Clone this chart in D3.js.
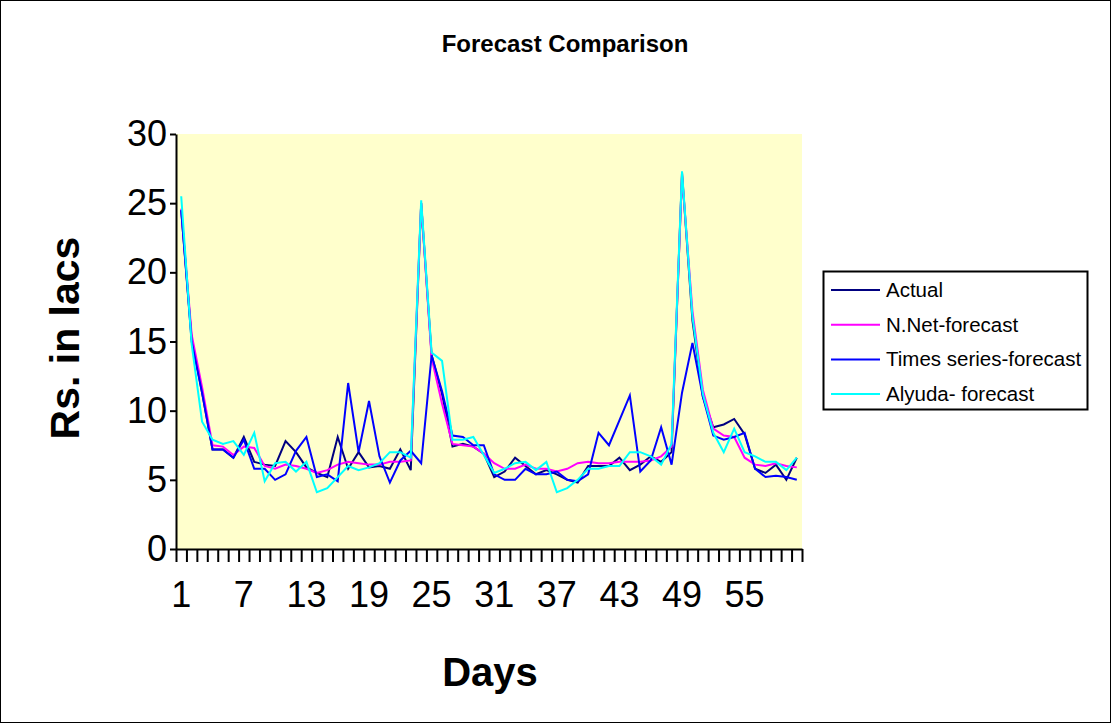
<html>
  <head>
    <script src="https://d3js.org/d3.v7.min.js"></script>
    <style>
      body { margin: 0; background: white; }
      text { font-family: "Liberation Sans", Arial, sans-serif; }
    </style>
  </head>
  <body>
    <svg id="chart" width="1112" height="724"></svg>
    <script>
      // days 1..60
      const days = d3.range(1, 61);
      const tickDays = [1, 7, 13, 19, 25, 31, 37, 43, 49, 55];
      const yTicks = [0, 5, 10, 15, 20, 25, 30];

      const actual = [24.5, 15.2, 11.3, 7.2, 7.2, 6.6, 8.1, 6.3, 6.1, 6.0,
        7.8, 7.0, 5.9, 5.5, 5.2, 8.1, 5.8, 7.0, 5.9, 6.0,
        5.8, 7.2, 5.7, 25.0, 14.0, 11.2, 7.4, 7.6, 7.4, 6.9,
        5.2, 5.6, 6.6, 6.0, 5.4, 5.7, 5.4, 5.0, 4.8, 6.0,
        6.0, 6.0, 6.6, 5.7, 6.1, 6.7, 6.3, 7.0, 27.2, 16.5,
        11.0, 8.8, 9.0, 9.4, 8.3, 5.8, 5.5, 6.1, 5.0, 6.6];
      const nnet = [24.6, 15.5, 11.7, 7.5, 7.4, 6.8, 7.4, 7.3, 6.0, 5.8,
        6.1, 6.0, 5.8, 5.5, 5.7, 6.1, 6.3, 6.2, 6.1, 6.1,
        6.3, 6.3, 6.4, 25.0, 13.8, 10.5, 7.6, 7.5, 7.4, 6.9,
        6.2, 5.8, 5.8, 6.1, 5.8, 5.8, 5.6, 5.8, 6.2, 6.3,
        6.2, 6.2, 6.3, 6.3, 6.3, 6.4, 6.7, 7.4, 27.0, 17.2,
        11.5, 8.7, 8.2, 8.1, 6.6, 6.1, 6.0, 6.2, 6.0, 5.9];
      const timeSeries = [24.5, 15.0, 11.3, 7.2, 7.2, 6.6, 7.9, 5.8, 5.8, 5.0,
        5.4, 7.1, 8.1, 5.2, 5.4, 4.9, 12.0, 7.0, 10.7, 6.7,
        4.8, 6.4, 7.1, 6.2, 14.0, 11.4, 8.2, 8.1, 7.5, 7.5,
        5.4, 5.0, 5.0, 5.8, 5.4, 5.4, 5.6, 5.0, 4.9, 5.4,
        8.4, 7.5, 9.3, 11.1, 5.6, 6.4, 8.8, 6.1, 11.3, 14.9,
        11.0, 8.2, 7.9, 8.1, 8.4, 5.8, 5.2, 5.3, 5.2, 5.0];
      const alyuda = [25.5, 14.8, 9.2, 7.9, 7.6, 7.8, 6.8, 8.4, 4.9, 6.2,
        6.3, 5.6, 6.3, 4.1, 4.4, 5.2, 6.0, 5.7, 5.9, 6.2,
        7.0, 7.0, 6.6, 25.2, 14.2, 13.6, 7.9, 7.9, 8.1, 6.8,
        5.5, 5.8, 6.2, 6.3, 5.7, 6.3, 4.1, 4.4, 5.0, 5.8,
        5.8, 6.0, 6.0, 7.0, 7.0, 6.7, 6.1, 7.6, 27.3, 16.8,
        11.2, 8.4, 7.0, 8.7, 7.0, 6.7, 6.3, 6.3, 5.7, 6.6];

      const seriesNames = ["Actual", "N.Net-forecast", "Times series-forecast", "Alyuda- forecast"];
      const seriesColors = ["#000080", "#ff00ff", "#0000ff", "#00ffff"];
      const seriesData = [actual, nnet, timeSeries, alyuda];

      const svg = d3.select("#chart");
      const margin = { top: 134, right: 310, bottom: 175, left: 176 };
      const plotW = 1112 - margin.left - margin.right;
      const plotH = 724 - margin.top - margin.bottom;

      // outer frame
      svg.append("rect")
        .attr("x", 0.5).attr("y", 0.5)
        .attr("width", 1110).attr("height", 722)
        .attr("fill", "white").attr("stroke", "black");

      const g = svg.append("g")
        .attr("transform", "translate(" + margin.left + "," + margin.top + ")");

      g.append("rect")
        .attr("width", plotW).attr("height", plotH)
        .attr("fill", "#ffffcc");

      const x = d3.scaleBand().domain(days).range([0, plotW]);
      const xEdge = d3.scaleLinear().domain([0, days.length]).range([0, plotW]);
      const y = d3.scaleLinear().domain([0, 30]).range([plotH, 0]);

      // lines
      const line = d3.line()
        .x((d, i) => x(days[i]) + x.bandwidth() / 2)
        .y((d) => y(d));

      seriesData.forEach((s, k) => {
        g.append("path")
          .datum(s)
          .attr("fill", "none")
          .attr("stroke", seriesColors[k])
          .attr("stroke-width", 2)
          .attr("stroke-linejoin", "miter")
          .attr("d", line);
      });

      // x axis: tick marks between categories
      g.append("g")
        .attr("transform", "translate(0," + plotH + ")")
        .call(d3.axisBottom(xEdge).tickValues(d3.range(0, days.length + 1))
          .tickSize(13).tickSizeOuter(0).tickFormat(""))
        .call((a) => a.selectAll("line").attr("stroke-width", 2))
        .call((a) => a.select(".domain").attr("stroke-width", 2));

      // x labels at category centres
      g.append("g")
        .attr("transform", "translate(0," + plotH + ")")
        .call(d3.axisBottom(x).tickValues(tickDays).tickSize(0).tickPadding(32))
        .call((a) => a.select(".domain").remove())
        .selectAll("text")
        .attr("font-size", 36)
        .attr("fill", "black")
        .style("font-family", "Liberation Sans, Arial, sans-serif");

      // y axis
      g.append("g")
        .call(d3.axisLeft(y).tickValues(yTicks).tickSize(6).tickSizeOuter(0).tickPadding(3))
        .call((a) => a.selectAll("line").attr("stroke-width", 2))
        .call((a) => a.select(".domain").attr("stroke-width", 2))
        .selectAll("text")
        .attr("font-size", 36)
        .attr("fill", "black")
        .style("font-family", "Liberation Sans, Arial, sans-serif");

      // titles
      svg.append("text")
        .attr("x", 565).attr("y", 52)
        .attr("text-anchor", "middle")
        .attr("font-weight", "bold")
        .attr("font-size", 24)
        .text("Forecast Comparison");

      svg.append("text")
        .attr("x", 490).attr("y", 686)
        .attr("text-anchor", "middle")
        .attr("font-weight", "bold")
        .attr("font-size", 40)
        .text("Days");

      svg.append("text")
        .attr("transform", "translate(79,338)rotate(-90)")
        .attr("text-anchor", "middle")
        .attr("font-weight", "bold")
        .attr("font-size", 41)
        .text("Rs. in lacs");

      // legend
      const legend = svg.append("g");
      legend.append("rect")
        .attr("x", 823.5).attr("y", 271.5)
        .attr("width", 264).attr("height", 138)
        .attr("fill", "white").attr("stroke", "black").attr("stroke-width", 2);

      seriesNames.forEach((name, i) => {
        const ly = 290 + i * 34.7;
        legend.append("line")
          .attr("x1", 831).attr("x2", 880)
          .attr("y1", ly).attr("y2", ly)
          .attr("stroke", seriesColors[i]).attr("stroke-width", 2);
        legend.append("text")
          .attr("x", 886).attr("y", ly + 7)
          .attr("font-size", 20.5)
          .text(name);
      });
    </script>
  </body>
</html>
